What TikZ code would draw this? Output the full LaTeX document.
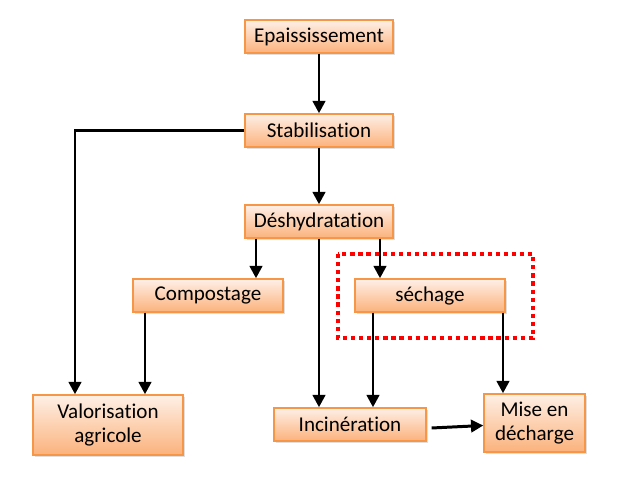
\documentclass[tikz,border=0pt]{standalone}
\usepackage{fontspec}
\setmainfont[Ligatures=NoCommon]{Carlito}
\usepackage{tikz}
\usetikzlibrary{arrows.meta,shadows}
\definecolor{boxtop}{HTML}{FEF0E6}
\definecolor{boxbot}{HTML}{FBB27C}
\definecolor{boxline}{HTML}{F79646}
\tikzset{
  etape/.style={draw=boxline, line width=0.8pt, top color=boxtop, bottom color=boxbot,
    minimum width=2.96cm, minimum height=0.66cm, inner sep=0pt, align=center,
    font=\fontsize{12}{14}\selectfont,
    drop shadow={opacity=0.25, shadow xshift=1.2pt, shadow yshift=-1.2pt}},
  fleche/.style={line width=1.7pt, -{Triangle[length=7pt,width=7pt]}},
  zone/.style={draw=red, line width=2.4pt, dash pattern=on 2.4pt off 2.2pt}
}

\begin{document}
\begin{tikzpicture}[x=0.02cm, y=-0.02cm]
		%%%%% START %%%%%
		\useasboundingbox (0, 0) rectangle (620, 489);
		
		\node[etape] (epa) at (319, 36.5) {Epaississement};
		\node[etape] (stab) at (319, 130.5) {Stabilisation};
		\node[etape] (desh) at (319, 221.5) {Déshydratation};
		\node[etape, minimum width=3cm] (comp) at (208, 295.5) {Compostage};
		\node[etape, minimum width=3cm] (sech) at (430, 295.5) {séchage};
		\node[etape, minimum width=3cm, minimum height=1.2cm] (valo) at (108, 425) {Valorisation\\agricole};
		\node[etape, minimum width=3.04cm] (inc) at (350, 424.5) {Incinération};
		\node[etape, minimum width=2.02cm, minimum height=1.16cm] (mise) at (534.5, 423) {Mise en\\décharge};
		
		\draw[zone] (338, 254) rectangle (533, 338);
		
		\draw[fleche] (epa.south) -- (stab.north);
		\draw[fleche] (stab.west) -| ([shift={(-33,0)}]valo.north);
		\draw[fleche] (stab.south) -- (desh.north);
		
		\draw[fleche] ([shift={(-63,0)}]desh.south) -- ([shift={(-63,0)}]desh.south |- comp.north);
		\draw[fleche] ([shift={(61,0)}]desh.south) -- ([shift={(61,0)}]desh.south |- sech.north);
		\draw[fleche] (desh.south) -- (desh.south |- inc.north);
		
		\draw[fleche] ([shift={(-63,0)}]comp.south) -- ([shift={(-63,0)}]comp.south |- valo.north);
		\draw[fleche] ([shift={(-57,0)}]sech.south) -- ([shift={(-57,0)}]sech.south |- inc.north);
		\draw[fleche] ([shift={(73,0)}]sech.south) -- ([shift={(73,0)}]sech.south |- mise.north);
		
		\draw[fleche] ([shift={(5,3.5)}]inc.east) -- ([shift={(0,2.5)}]mise.west);
		%%%%% END %%%%%
\end{tikzpicture}
\end{document}
